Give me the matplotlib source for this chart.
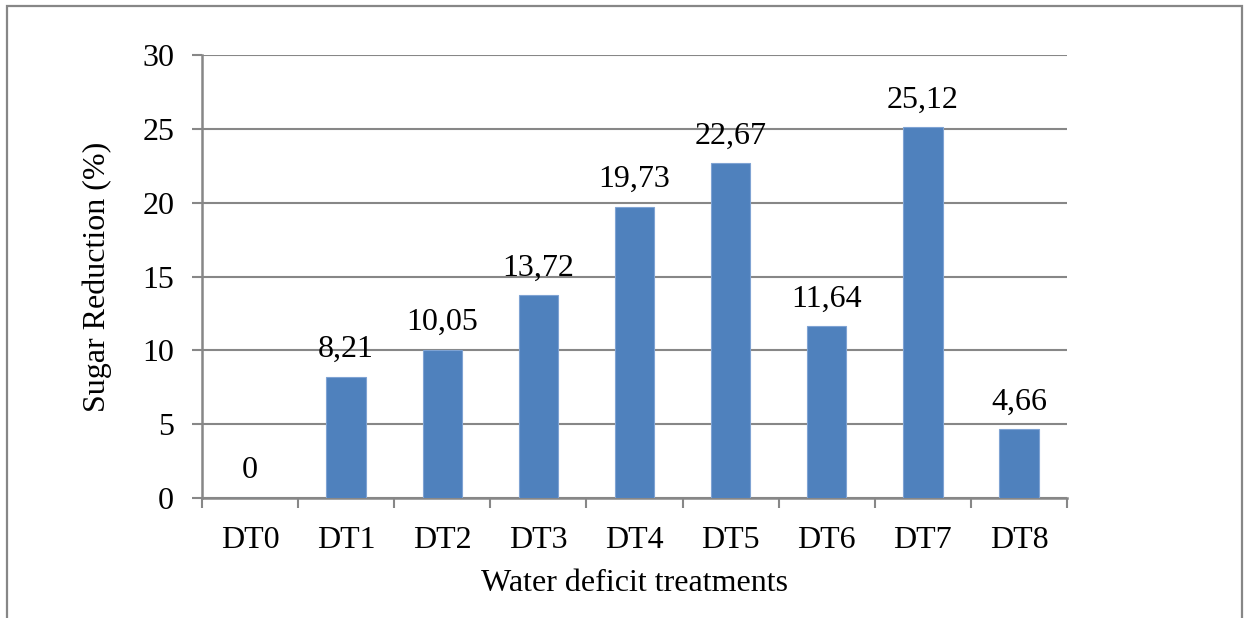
import matplotlib.pyplot as plt
from matplotlib.patches import Rectangle
import numpy as np

# data
treatments = ["DT0", "DT1", "DT2", "DT3", "DT4", "DT5", "DT6", "DT7", "DT8"]
sugar_reduction = [0, 8.21, 10.05, 13.72, 19.73, 22.67, 11.64, 25.12, 4.66]
value_labels = ["0", "8,21", "10,05", "13,72", "19,73", "22,67", "11,64", "25,12", "4,66"]

plt.rcParams['font.family'] = ['Liberation Serif', 'DejaVu Serif']

gray = "#878787"
fs = 23

fig = plt.figure(figsize=(12.44, 6.18), dpi=100)
ax = fig.add_axes([202 / 1244, 1 - 498 / 618, 865 / 1244, 443 / 618])

x = np.arange(len(treatments))
ax.bar(x, sugar_reduction, width=0.41, color="#4F81BD", edgecolor="#7FA3D3",
       linewidth=0.8, zorder=3)

for xi, v, lab in zip(x, sugar_reduction, value_labels):
    ax.annotate(lab, (xi, v), xytext=(0, 9), textcoords="offset points",
                ha="center", va="bottom", fontsize=fs)

ax.set_xlim(-0.5, len(treatments) - 0.5)
ax.set_ylim(0, 30)
ax.set_yticks(range(0, 31, 5))
ax.yaxis.grid(True, color=gray, linewidth=1.5, zorder=0)
ax.set_axisbelow(True)

# ticks on category boundaries, labels at the centres
ax.set_xticks(np.arange(-0.5, len(treatments), 1.0))
ax.set_xticklabels([])
ax.set_xticks(x, minor=True)
ax.set_xticklabels(treatments, minor=True, fontsize=fs)
ax.tick_params(axis="x", which="major", length=7, width=1.5, color=gray, direction="out")
ax.tick_params(axis="x", which="minor", length=0, pad=20)
ax.tick_params(axis="y", length=7, width=1.5, color=gray, direction="out",
               labelsize=fs, pad=13)

for side in ["top", "right"]:
    ax.spines[side].set_visible(False)
for side in ["left", "bottom"]:
    ax.spines[side].set_color(gray)
    ax.spines[side].set_linewidth(1.8)

ax.set_xlabel("Water deficit treatments", fontsize=fs, labelpad=10)
ax.set_ylabel("Sugar Reduction (%)", fontsize=fs, labelpad=22)

# outer frame of the chart
fig.patches.append(Rectangle((7 / 1244, -0.05), 1235 / 1244, 1.05 - 6 / 618,
                             transform=fig.transFigure, fill=False,
                             edgecolor=gray, linewidth=1.6, clip_on=False))

fig.savefig("out.png", dpi=100)
